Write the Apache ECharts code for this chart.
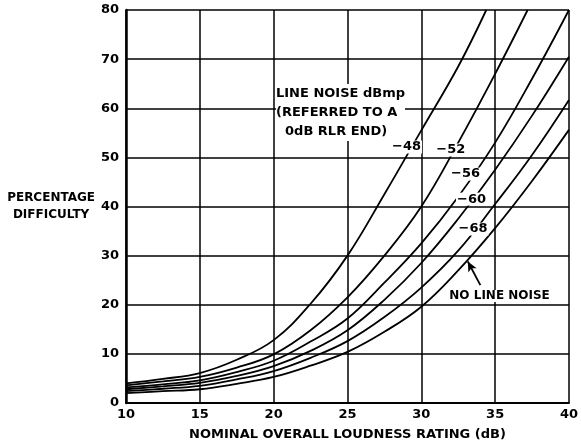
<!DOCTYPE html>
<html>
<head>
<meta charset="utf-8">
<script src="https://cdn.jsdelivr.net/npm/echarts@6/dist/echarts.min.js"></script>
<style>
  html, body { margin: 0; padding: 0; background: #fff; }
  #main { width: 581px; height: 448px; }
</style>
</head>
<body>
<div id="main"></div>
<script>
var myChart = echarts.init(document.getElementById('main'));

// loudness rating (dB) / percentage difficulty
var n48 = [[10,4.0],[12.5,4.9],[15,6.1],[17.5,8.8],[20,12.8],[22.5,20.2],[25,30],[27.5,42.5],[30,55.5],[32.5,68.5],[34.4,80]];
var n52 = [[10,3.6],[12.5,4.4],[15,5.3],[17.5,7.2],[20,9.9],[22.5,14.8],[25,21.5],[27.5,30],[30,40],[32.5,53],[35,67],[37.2,80]];
var n56 = [[10,3.2],[12.5,3.8],[15,4.6],[17.5,6.3],[20,8.6],[22.5,12.5],[25,17.2],[27.5,24.5],[30,32.5],[32.5,42],[35,53],[37.5,66],[40,80]];
var n60 = [[10,2.8],[12.5,3.4],[15,4.1],[17.5,5.5],[20,7.5],[22.5,10.6],[25,14.8],[27.5,21],[30,28.5],[32.5,37.5],[35,47.5],[37.5,58.5],[40,70.5]];
var n68 = [[10,2.4],[12.5,2.9],[15,3.5],[17.5,4.8],[20,6.5],[22.5,9.2],[25,12.6],[27.5,17.5],[30,23.5],[32.5,31],[35,40.5],[37.5,50.5],[40,61.7]];
var noNoise = [[10,2.0],[12.5,2.4],[15,2.8],[17.5,3.9],[20,5.3],[22.5,7.6],[25,10.4],[27.5,14.5],[30,19.6],[32.5,27],[35,35.6],[37.5,45.2],[40,55.6]];

// curve labels: text and where it sits [x, y]
var curveNames = ['−48', '−52', '−56', '−60', '−68'];
var labelAt = [[29.0,52.1],[32.0,51.5],[33.0,46.6],[33.4,41.5],[33.5,35.4]];

var font = 'DejaVu Sans';
var black = '#000';

function textMark(text, coord, size) {
    return {
        silent: true,
        symbol: 'circle',
        symbolSize: 0,
        label: {
            show: true,
            position: 'inside',
            formatter: text,
            color: black,
            textBorderWidth: 0,
            fontFamily: font,
            fontWeight: 'bold',
            fontSize: size,
            backgroundColor: '#fff',
            padding: [0, 1]
        },
        data: [{ coord: coord }]
    };
}

function curve(data) {
    return {
        type: 'line',
        data: data,
        smooth: 0.4,
        symbol: 'none',
        lineStyle: { color: black, width: 1.8 },
        clip: true,
        z: 3
    };
}

var series = [n48, n52, n56, n60, n68].map(function (d, i) {
    var s = curve(d);
    s.markPoint = textMark(curveNames[i], labelAt[i], 13);
    return s;
});

var nn = curve(noNoise);
nn.markLine = {
    silent: true,
    symbol: ['none', 'arrow'],
    symbolSize: [7, 10],
    label: { show: false },
    lineStyle: { color: black, width: 1.8, type: 'solid' },
    data: [[{ coord: [34.0, 24.0] }, { coord: [33.15, 28.8] }]]
};
nn.markPoint = textMark('NO LINE NOISE', [35.3, 21.8], 12);
series.push(nn);

var option = {
    backgroundColor: '#fff',
    animation: false,
    grid: { left: 126, right: 4, top: 10, bottom: 45 },
    xAxis: {
        type: 'value',
        min: 10,
        max: 40,
        interval: 5,
        name: 'NOMINAL OVERALL LOUDNESS RATING (dB)',
        nameLocation: 'middle',
        nameGap: 25,
        nameTextStyle: { color: black, fontFamily: font, fontWeight: 'bold', fontSize: 13 },
        axisLine: { show: true, lineStyle: { color: black, width: 2 } },
        axisTick: { show: false },
        axisLabel: { color: black, fontFamily: font, fontWeight: 'bold', fontSize: 13, margin: 5 },
        splitLine: { show: true, lineStyle: { color: black, width: 1.5 } }
    },
    yAxis: {
        type: 'value',
        min: 0,
        max: 80,
        interval: 10,
        name: 'PERCENTAGE\nDIFFICULTY',
        nameLocation: 'middle',
        nameRotate: 0,
        nameGap: 74,
        nameTextStyle: { color: black, fontFamily: font, fontWeight: 'bold', fontSize: 12, align: 'center', lineHeight: 17 },
        axisLine: { show: true, lineStyle: { color: black, width: 2.5 } },
        axisTick: { show: false },
        axisLabel: { color: black, fontFamily: font, fontWeight: 'bold', fontSize: 13, margin: 7 },
        splitLine: { show: true, lineStyle: { color: black, width: 1.5 } }
    },
    graphic: [{
        type: 'text',
        left: 276,
        top: 84,
        z: 10,
        style: {
            text: 'LINE NOISE dBmp\n(REFERRED TO A\n  0dB RLR END)',
            fill: black,
            font: 'bold 13px "DejaVu Sans"',
            lineHeight: 19,
            backgroundColor: '#fff'
        }
    }],
    series: series
};

myChart.setOption(option);
</script>
</body>
</html>
